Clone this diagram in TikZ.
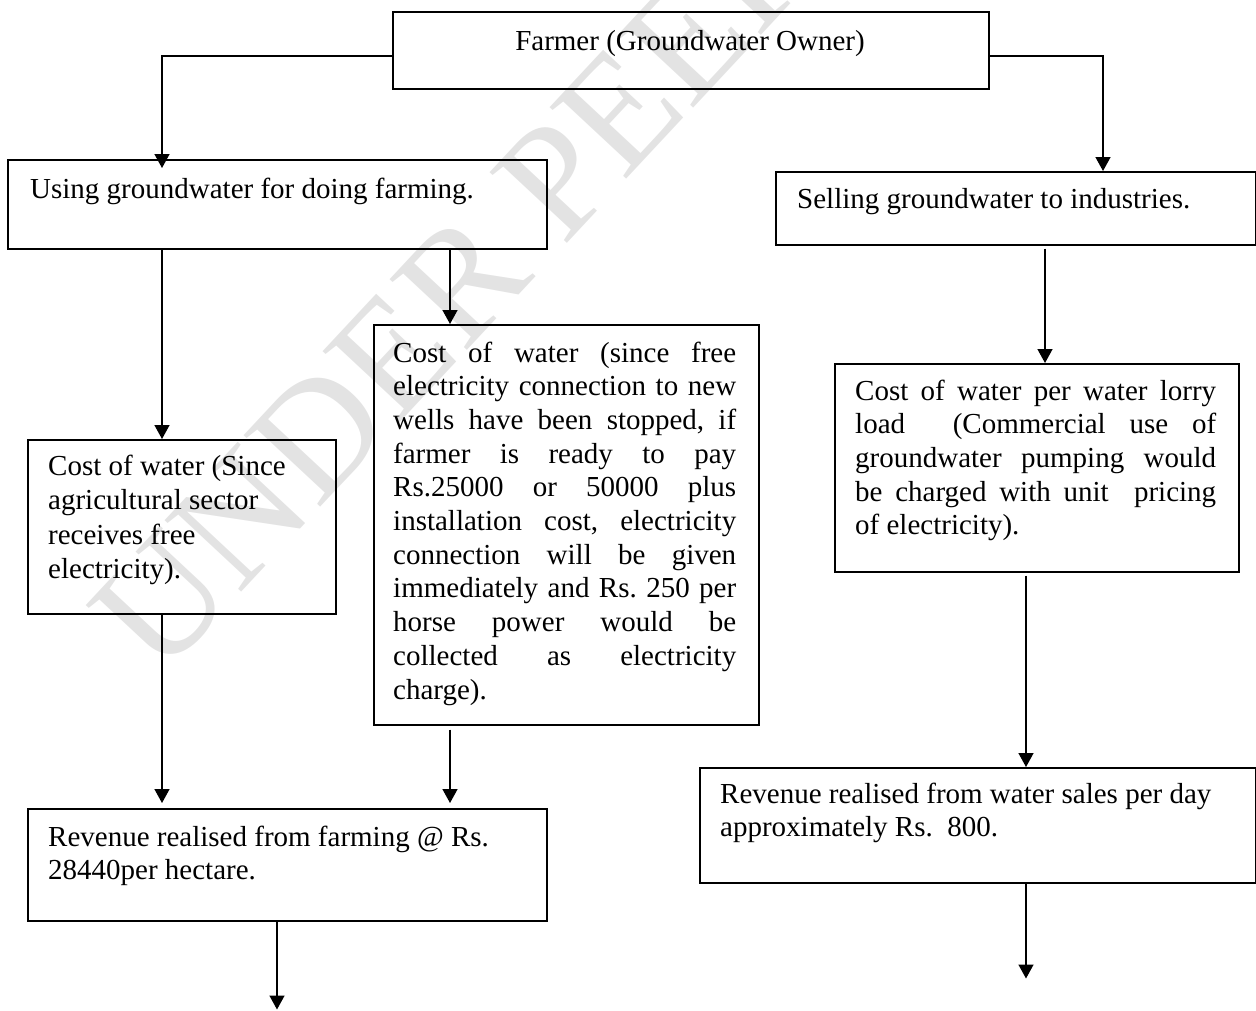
\documentclass[tikz,border=0pt]{standalone}
\usepackage{fontspec}
\setmainfont{Liberation Serif}
\usetikzlibrary{arrows.meta}
\frenchspacing
\newcommand{\jline}[2]{\makebox[#1][s]{#2}}
\begin{document}
\begin{tikzpicture}[x=1pt,y=-1pt,
  box/.style={draw, line width=1.5pt, rectangle, inner sep=0pt, anchor=north west},
  txt/.style={inner sep=0pt, anchor=base west, font=\fontsize{29}{33.7}\selectfont},
  wm/.style={inner sep=0pt, anchor=base west, rotate=47, text=black!11, font=\fontsize{160}{160}\selectfont},
  arr/.style={line width=1.5pt, -{Triangle[width=15pt,length=14pt]}}]
\useasboundingbox (0,0) rectangle (1256,1010);
% watermark
\node[wm] (wmark) at (160,680) {UNDER PEER REVIEW};
% boxes
\node[box, minimum width=596pt, minimum height=77pt] (farmer) at (392,11) {};
\node[box, minimum width=539pt, minimum height=89pt] (using) at (7,159) {};
\node[box, minimum width=480pt, minimum height=73pt] (selling) at (775,171) {};
\node[box, minimum width=308pt, minimum height=174pt] (costL) at (27,439) {};
\node[box, minimum width=385pt, minimum height=400pt] (costM) at (373,324) {};
\node[box, minimum width=404pt, minimum height=208pt] (costR) at (834,363) {};
\node[box, minimum width=519pt, minimum height=112pt] (revL) at (27,808) {};
\node[box, minimum width=556pt, minimum height=115pt] (revR) at (699,767) {};
% texts
\node[txt, anchor=base] (tfarmer) at (690,50) {Farmer (Groundwater Owner)};
\node[txt] (tusing) at (30,198) {Using groundwater for doing farming.};
\node[txt] (tselling) at (797,208) {Selling groundwater to industries.};
\node[txt] (tcostL) at (48,475) {\parbox[t]{285pt}{\baselineskip=34.5pt Cost of water (Since\\agricultural sector\\receives free\\electricity).}};
\node[txt] (tcostM) at (393,362) {\parbox[t]{343pt}{%
\jline{343pt}{Cost of water (since free}\\
\jline{343pt}{electricity connection to new}\\
\jline{343pt}{wells have been stopped, if}\\
\jline{343pt}{farmer is ready to pay}\\
\jline{343pt}{Rs.25000 or 50000 plus}\\
\jline{343pt}{installation cost, electricity}\\
\jline{343pt}{connection will be given}\\
\jline{343pt}{immediately and Rs. 250 per}\\
\jline{343pt}{horse power would be}\\
\jline{343pt}{collected as electricity}\\
charge).}};
\node[txt] (tcostR) at (855,400) {\parbox[t]{361pt}{%
\jline{361pt}{Cost of water per water lorry}\\
\jline{361pt}{load\ \ (Commercial use of}\\
\jline{361pt}{groundwater pumping would}\\
\jline{361pt}{be charged with unit\ \ pricing}\\
of electricity).}};
\node[txt] (trevL) at (48,846) {\parbox[t]{480pt}{Revenue realised from farming @ Rs.\\28440per hectare.}};
\node[txt] (trevR) at (720,803) {\parbox[t]{525pt}{Revenue realised from water sales per day\\approximately Rs.\ \ 800.}};
% connectors
\draw[arr, shorten >=-9pt] ([yshift=-45pt]farmer.north west) -| ([xshift=155pt]using.north west);
\draw[arr] ([yshift=-45pt]farmer.north east) -| ([xshift=328pt]selling.north west);
\coordinate (uL) at ([xshift=155pt]using.south west);
\coordinate (uM) at ([xshift=443pt]using.south west);
\coordinate (sR) at ([xshift=270pt]selling.south west);
\coordinate (cL) at ([xshift=135pt]costL.south west);
\coordinate (cM) at ([xshift=77pt]costM.south west);
\coordinate (cR) at ([xshift=192pt]costR.south west);
\coordinate (rL) at ([xshift=250pt]revL.south west);
\coordinate (rR) at ([xshift=327pt]revR.south west);
\coordinate (eL) at ([yshift=-88pt]rL);
\coordinate (eR) at ([yshift=-95pt]rR);
\draw[arr] (uL) -- (uL |- costL.north);
\draw[arr] (uM) -- (uM |- costM.north);
\draw[arr, shorten <=3pt] (sR) -- (sR |- costR.north);
\draw[arr, shorten >=5pt] (cL) -- (cL |- revL.north);
\draw[arr, shorten <=4pt, shorten >=5pt] (cM) -- (cM |- revL.north);
\draw[arr, shorten <=3pt] (cR) -- (cR |- revR.north);
\draw[arr] (rL) -- (eL);
\draw[arr] (rR) -- (eR);
\end{tikzpicture}
\end{document}
